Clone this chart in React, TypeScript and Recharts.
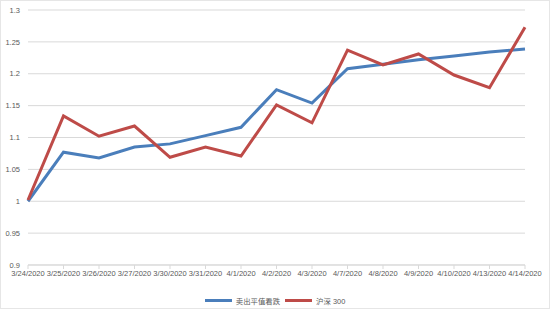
import { LineChart, Line, XAxis, YAxis, CartesianGrid, Legend } from "recharts";

const dates = [
  "3/24/2020", "3/25/2020", "3/26/2020", "3/27/2020", "3/30/2020", "3/31/2020", "4/1/2020",
  "4/2/2020", "4/3/2020", "4/7/2020", "4/8/2020", "4/9/2020", "4/10/2020", "4/13/2020", "4/14/2020",
];
const putSell = [1.0, 1.077, 1.068, 1.085, 1.09, 1.103, 1.116, 1.175, 1.154, 1.208, 1.215, 1.222, 1.228, 1.234, 1.239];
const csi300 = [1.002, 1.134, 1.102, 1.118, 1.069, 1.085, 1.071, 1.151, 1.123, 1.237, 1.214, 1.231, 1.198, 1.178, 1.273];
const yTicks = [0.9, 0.95, 1, 1.05, 1.1, 1.15, 1.2, 1.25, 1.3];

const SERIES = [
  { key: "putSell", name: "卖出平值看跌", color: "#4A7EBB" },
  { key: "csi300", name: "沪深 300", color: "#BE4B48" },
];

const data = dates.map((d, i) => ({ date: d, putSell: putSell[i], csi300: csi300[i] }));

const FONT = "'Liberation Sans', 'Noto Sans CJK SC', sans-serif";

const LegendContent = () => (
  <div style={{ height: 12, display: "flex", justifyContent: "center", alignItems: "center", fontFamily: FONT, fontSize: 7.4, color: "#595959" }}>
    {SERIES.map((s, i) => (
      <div key={s.key} style={{ display: "flex", alignItems: "center", marginRight: i === 0 ? 5 : 0 }}>
        <span style={{ display: "inline-block", width: 27, height: 3, background: s.color, marginRight: 4 }} />
        <span>{s.name}</span>
      </div>
    ))}
  </div>
);

export default function App() {
  return (
    <div style={{ position: "absolute", left: 0, top: 0, width: 550, height: 309, background: "#fff", boxSizing: "border-box", border: "1px solid #e6e6e6" }}>
      <LineChart width={548} height={307} data={data} margin={{ top: 9, right: 24, bottom: 11, left: 0 }}>
        <CartesianGrid vertical={false} stroke="#d9d9d9" />
        <XAxis
          dataKey="date"
          interval={0}
          height={20}
          tick={{ fontSize: 7.5, fill: "#595959", fontFamily: FONT }}
          axisLine={{ stroke: "#d9d9d9" }}
          tickLine={{ stroke: "#d9d9d9" }}
          tickSize={4}
        />
        <YAxis
          domain={[0.9, 1.3]}
          ticks={yTicks}
          width={27}
          interval={0}
          tick={{ fontSize: 7.5, fill: "#595959", fontFamily: FONT }}
          axisLine={false}
          tickLine={false}
        />
        <Legend verticalAlign="bottom" wrapperStyle={{ bottom: 2, left: 0, width: 548 }} content={<LegendContent />} />
        {SERIES.map((s) => (
          <Line
            key={s.key}
            type="linear"
            dataKey={s.key}
            name={s.name}
            stroke={s.color}
            strokeWidth={3}
            dot={false}
            isAnimationActive={false}
          />
        ))}
      </LineChart>
    </div>
  );
}
